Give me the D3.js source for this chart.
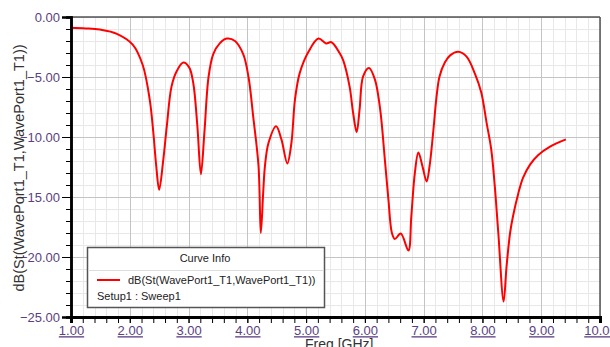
<!DOCTYPE html>
<html>
<head>
<meta charset="utf-8">
<script src="https://cdn.jsdelivr.net/npm/d3@7"></script>
<style>
  body { margin: 0; background: #fff; }
  svg { display: block; }
</style>
</head>
<body>
<div id="chart"></div>
<script>
// values
const freq = [1.00, 1.25, 1.49, 1.78, 2.05, 2.22, 2.34, 2.40, 2.45, 2.50, 2.57, 2.63, 2.71, 2.80, 2.91,
  3.01, 3.08, 3.15, 3.21, 3.27, 3.34, 3.42, 3.53, 3.65, 3.79, 3.93, 4.02, 4.10, 4.19, 4.23, 4.27,
  4.30, 4.36, 4.49, 4.58, 4.68, 4.75, 4.81, 4.89, 5.04, 5.21, 5.34, 5.43, 5.57, 5.63, 5.74, 5.80,
  5.86, 5.91, 5.97, 6.07, 6.17, 6.26, 6.34, 6.40, 6.46, 6.51, 6.61, 6.74, 6.79, 6.85, 6.91, 6.98,
  7.05, 7.10, 7.16, 7.22, 7.27, 7.36, 7.45, 7.59, 7.73, 7.87, 7.98, 8.07, 8.15, 8.21, 8.27, 8.36,
  8.41, 8.47, 8.52, 8.61, 8.69, 8.81, 8.95, 9.15, 9.42];
const s11 = [-0.9, -0.95, -1.05, -1.4, -2.3, -4.0, -6.9, -9.6, -12.4, -14.4, -11.9, -9.1, -5.8, -4.5, -3.8,
  -4.2, -5.5, -9.1, -13.1, -9.6, -5.0, -3.1, -2.2, -1.8, -2.0, -3.1, -5.0, -8.3, -12.4, -18.0, -14.6,
  -12.4, -10.5, -9.1, -10.2, -12.2, -10.5, -6.9, -4.7, -2.9, -1.8, -2.2, -2.1, -3.0, -3.6, -5.8, -8.0,
  -9.6, -7.7, -4.95, -4.25, -5.2, -7.7, -11.9, -15.2, -18.0, -18.5, -18.05, -19.45, -16.6, -13.0, -11.3, -12.45,
  -13.7, -12.45, -9.7, -6.6, -4.95, -3.8, -3.2, -2.9, -3.3, -4.7, -6.3, -8.8, -11.05, -14.1, -18.0, -23.7,
  -20.8, -18.0, -16.6, -14.7, -13.4, -12.3, -11.5, -10.8, -10.2];

const xTicks = [1, 2, 3, 4, 5, 6, 7, 8, 9, 10];
const yTicks = [0, -5, -10, -15, -20, -25];
const yTitle = "dB(St(WavePort1_T1,WavePort1_T1))";
const xTitle = "Freq [GHz]";
const legendTitle = "Curve Info";
const legendSetup = "Setup1 : Sweep1";

const W = 610, H = 347;
const margin = { left: 71, right: 600, top: 17, bottom: 317 };
const labelColor = "#5a3f82";
const font = "Arial, 'Liberation Sans', sans-serif";

const svg = d3.select("#chart").append("svg")
  .attr("width", W).attr("height", H);

const x = d3.scaleLinear().domain([1, 10]).range([margin.left, margin.right]);
const y = d3.scaleLinear().domain([-25, 0]).range([margin.bottom, margin.top]);

const xMinor = d3.range(1, 10.001, 0.2);
const yMinor = d3.range(-25, 0.001, 1);

// grid
const grid = svg.append("g");
grid.selectAll(".vmin").data(xMinor).join("line")
  .attr("x1", d => Math.round(x(d)) + 0.5).attr("x2", d => Math.round(x(d)) + 0.5)
  .attr("y1", margin.top).attr("y2", margin.bottom)
  .attr("stroke", "#e8e8e8");
grid.selectAll(".hmin").data(yMinor).join("line")
  .attr("y1", d => Math.round(y(d)) + 0.5).attr("y2", d => Math.round(y(d)) + 0.5)
  .attr("x1", margin.left).attr("x2", margin.right)
  .attr("stroke", "#e8e8e8");
grid.selectAll(".vmaj").data(xTicks).join("line")
  .attr("x1", d => Math.round(x(d)) + 0.5).attr("x2", d => Math.round(x(d)) + 0.5)
  .attr("y1", margin.top).attr("y2", margin.bottom)
  .attr("stroke", "#c4c4c4");
grid.selectAll(".hmaj").data(yTicks).join("line")
  .attr("y1", d => Math.round(y(d)) + 0.5).attr("y2", d => Math.round(y(d)) + 0.5)
  .attr("x1", margin.left).attr("x2", margin.right)
  .attr("stroke", "#c4c4c4");

// frame top / right
svg.append("line").attr("x1", margin.left).attr("x2", margin.right).attr("y1", margin.top).attr("y2", margin.top)
  .attr("stroke", "#555").attr("stroke-width", 1.5);
svg.append("line").attr("x1", margin.right).attr("x2", margin.right).attr("y1", margin.top).attr("y2", margin.bottom)
  .attr("stroke", "#555").attr("stroke-width", 1.5);

// curve
const pts = freq.map((f, i) => [f, s11[i]]);
svg.append("path")
  .datum(pts)
  .attr("fill", "none")
  .attr("stroke", "#ff0000")
  .attr("stroke-width", 2)
  .attr("d", d3.line().x(d => x(d[0])).y(d => y(d[1])).curve(d3.curveCatmullRom.alpha(0.5)));

// legend
const lg = svg.append("g").attr("font-family", font).attr("font-size", 11).attr("fill", "#222");
lg.append("rect").attr("x", 87.5).attr("y", 247.5).attr("width", 237).attr("height", 60)
  .attr("fill", "#fff").attr("stroke", "#555").attr("stroke-width", 1.5);
lg.append("text").attr("x", 205).attr("y", 262).attr("text-anchor", "middle").text(legendTitle);
lg.append("line").attr("x1", 88).attr("x2", 324).attr("y1", 270.5).attr("y2", 270.5)
  .attr("stroke", "#ddd");
lg.append("line").attr("x1", 97).attr("x2", 120).attr("y1", 280).attr("y2", 280)
  .attr("stroke", "#ff0000").attr("stroke-width", 2);
lg.append("text").attr("x", 128).attr("y", 284).text(yTitle);
lg.append("text").attr("x", 97).attr("y", 300).text(legendSetup);

// axes
const yAxis = svg.append("g").attr("transform", `translate(${margin.left},0)`);
yAxis.call(d3.axisLeft(y).tickValues(yMinor).tickSize(5).tickFormat(""));
yAxis.append("g").call(d3.axisLeft(y).tickValues(yTicks).tickSize(9).tickPadding(2).tickFormat(d3.format(".2f")));
yAxis.selectAll(".domain").attr("stroke", "#000").attr("stroke-width", 2.5);
yAxis.selectAll("text").attr("fill", labelColor).attr("font-size", 13).attr("font-family", font);

const xAxis = svg.append("g").attr("transform", `translate(0,${margin.bottom})`);
xAxis.call(d3.axisBottom(x).tickValues(xMinor).tickSize(6).tickFormat(""));
xAxis.append("g").call(d3.axisBottom(x).tickValues(xTicks).tickSize(6).tickPadding(3).tickFormat(d3.format(".2f")));
xAxis.selectAll(".domain").attr("stroke", "#000").attr("stroke-width", 3);
xAxis.selectAll("text").attr("fill", labelColor).attr("font-size", 13).attr("font-family", font)
  .attr("text-decoration", "underline");

// titles
svg.append("text")
  .attr("transform", `translate(24,168) rotate(-90)`)
  .attr("text-anchor", "middle")
  .attr("font-family", font).attr("font-size", 14.5).attr("fill", "#333")
  .text(yTitle);
svg.append("text")
  .attr("x", 305).attr("y", 349)
  .attr("font-family", font).attr("font-size", 14).attr("fill", "#333")
  .text(xTitle);
</script>
</body>
</html>
